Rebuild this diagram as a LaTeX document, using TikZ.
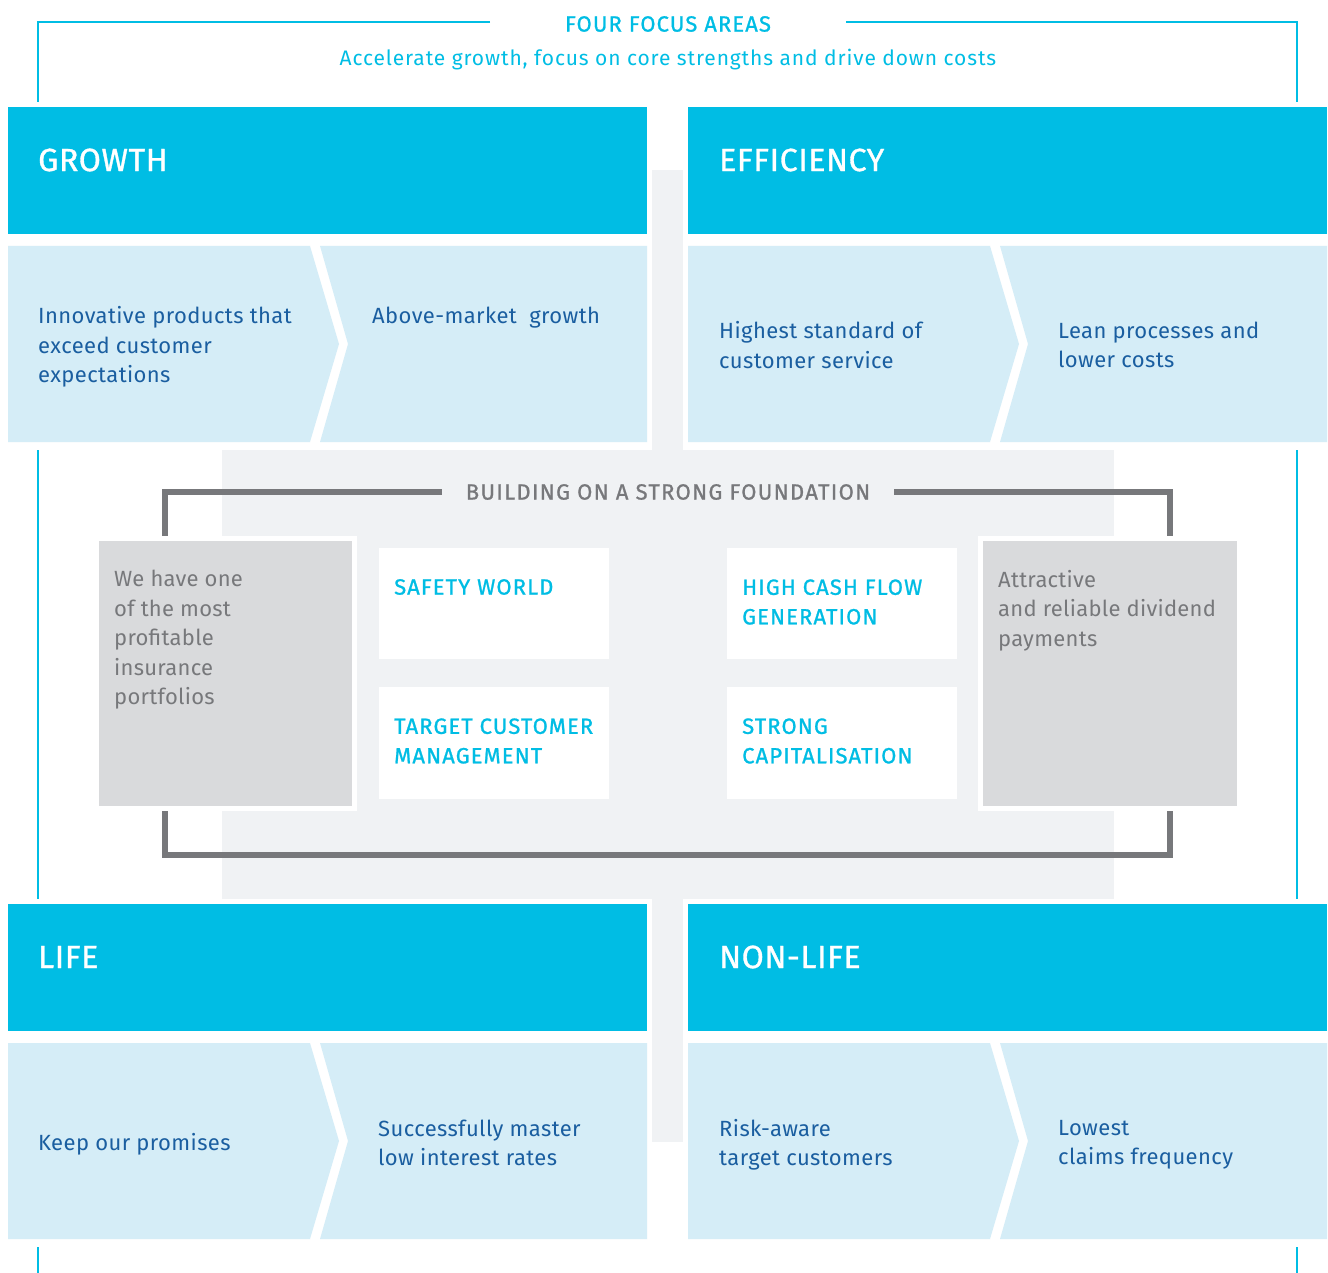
\documentclass[tikz,border=0pt]{standalone}
\usepackage{fontspec}
\setmainfont{Fira Sans}
\newfontfamily\bodyfont[LetterSpace=1.8]{Fira Sans}
\newfontfamily\notefont[LetterSpace=1.2]{Fira Sans}
\newfontfamily\claimfont[LetterSpace=4.2]{Fira Sans}
\newfontfamily\headfont[LetterSpace=2,FakeBold=1]{Fira Sans}
\newfontfamily\pillarfont[LetterSpace=5,FakeBold=1]{Fira Sans}
\newfontfamily\basefont[LetterSpace=6,FakeBold=1]{Fira Sans}
\definecolor{ifcyan}{HTML}{00BDE4}
\definecolor{panel}{HTML}{D5EDF7}
\definecolor{pale}{HTML}{F0F2F4}
\definecolor{stone}{HTML}{D9DADC}
\definecolor{ink}{HTML}{1A5EA0}
\definecolor{slate}{HTML}{77787B}
\begin{document}
\begin{tikzpicture}[x=1pt,y=-1pt]
\tikzstyle{body}=[inner sep=0pt,anchor=west,align=left,text=ink,font=\fontsize{22}{29.5}\selectfont\bodyfont]
\tikzstyle{note}=[body,text=slate,font=\fontsize{22}{29.5}\selectfont\notefont]
\tikzstyle{head}=[inner sep=0pt,anchor=west,text=white,font=\fontsize{32}{36}\selectfont\headfont]
\tikzstyle{pillar}=[inner sep=0pt,anchor=west,align=left,text=ifcyan,font=\fontsize{22}{29.5}\selectfont\pillarfont]
\tikzstyle{tile}=[fill=white]
\tikzstyle{bracket}=[slate,line width=6pt]
\useasboundingbox (0,0) rectangle (1328,1273);

% outer frame and title
\node (title) [pillar,anchor=center] at (668,24) {FOUR FOCUS AREAS};
\node (claim) [body,anchor=center,text=ifcyan,font=\fontsize{21}{26}\selectfont\claimfont] at (668,60)
  {Accelerate growth, focus on core strengths and drive down costs};
\draw[ifcyan,line width=1.3pt] (490,22) -- (38,22) -- (38,1273);
\draw[ifcyan,line width=1.3pt] (846,22) -- (1297,22) -- (1297,1273);

% pale backdrop
\fill[pale] (652,170) rectangle (683,1142);
\fill[pale] (222,448) rectangle (1114,899);

% the four quadrants
\foreach \dx/\dy in {0/0,680/0,0/797,680/797}{
  \fill[white] (\dx+3,\dy+102) rectangle (\dx+652,\dy+1247-797);
  \fill[ifcyan] (\dx+8,\dy+107) rectangle (\dx+647,\dy+234);
  \fill[panel] (\dx+8,\dy+246) -- (\dx+310,\dy+246) -- (\dx+339,\dy+344)
    -- (\dx+310,\dy+442) -- (\dx+8,\dy+442) -- cycle;
  \fill[panel] (\dx+320,\dy+246) -- (\dx+647,\dy+246) -- (\dx+647,\dy+442)
    -- (\dx+320,\dy+442) -- (\dx+348,\dy+344) -- cycle;
}

\node (growth) [head] at (38,160) {GROWTH};
\node (effic) [head] at (719,160) {EFFICIENCY};
\node (life) [head] at (38,957) {LIFE};
\node (nonlife) [head] at (719,957) {NON-LIFE};

\node (g1) [body] at (38,347) {Innovative products that\\exceed customer\\expectations};
\node (g2) [body] at (372,318) {Above-market\ \ growth};
\node (e1) [body] at (719,345) {Highest standard of\\customer service};
\node (e2) [body] at (1058,345) {Lean processes and\\lower costs};
\node (l1) [body] at (38,1144) {Keep our promises};
\node (l2) [body] at (378,1143) {Successfully master\\low interest rates};
\node (n1) [body] at (719,1145) {Risk-aware\\target customers};
\node (n2) [body] at (1058,1145) {Lowest\\claims frequency};

% foundation
\node (base) [pillar,anchor=center,text=slate,font=\fontsize{22}{29.5}\selectfont\basefont] at (668,492) {BUILDING ON A STRONG FOUNDATION};
\draw[bracket] ([xshift=-24pt]base.west) -| (165,560);
\draw[bracket] ([xshift=24pt]base.east) -| (1170,560);
\draw[bracket] (165,790) |- (1170,855) -- (1170,790);

\fill[white] (94,536) rectangle (357,811);
\fill[stone] (99,541) rectangle (352,806);
\fill[white] (978,536) rectangle (1242,811);
\fill[stone] (983,541) rectangle (1237,806);
\node (lnote) [note,anchor=north west] at (114,570) {We have one\\of the most\\profitable\\insurance\\portfolios};
\node (rnote) [note,anchor=north west] at (998,570) {Attractive\\and reliable dividend\\payments};

\fill[tile] (379,548) rectangle (609,659);
\fill[tile] (379,687) rectangle (609,799);
\fill[tile] (727,548) rectangle (957,659);
\fill[tile] (727,687) rectangle (957,799);
\node (safety) [pillar] at (394,587) {SAFETY WORLD};
\node (target) [pillar] at (394,741) {TARGET CUSTOMER\\MANAGEMENT};
\node (cash) [pillar] at (742,602) {HIGH CASH FLOW\\GENERATION};
\node (capital) [pillar] at (742,741) {STRONG\\CAPITALISATION};
\end{tikzpicture}
\end{document}
